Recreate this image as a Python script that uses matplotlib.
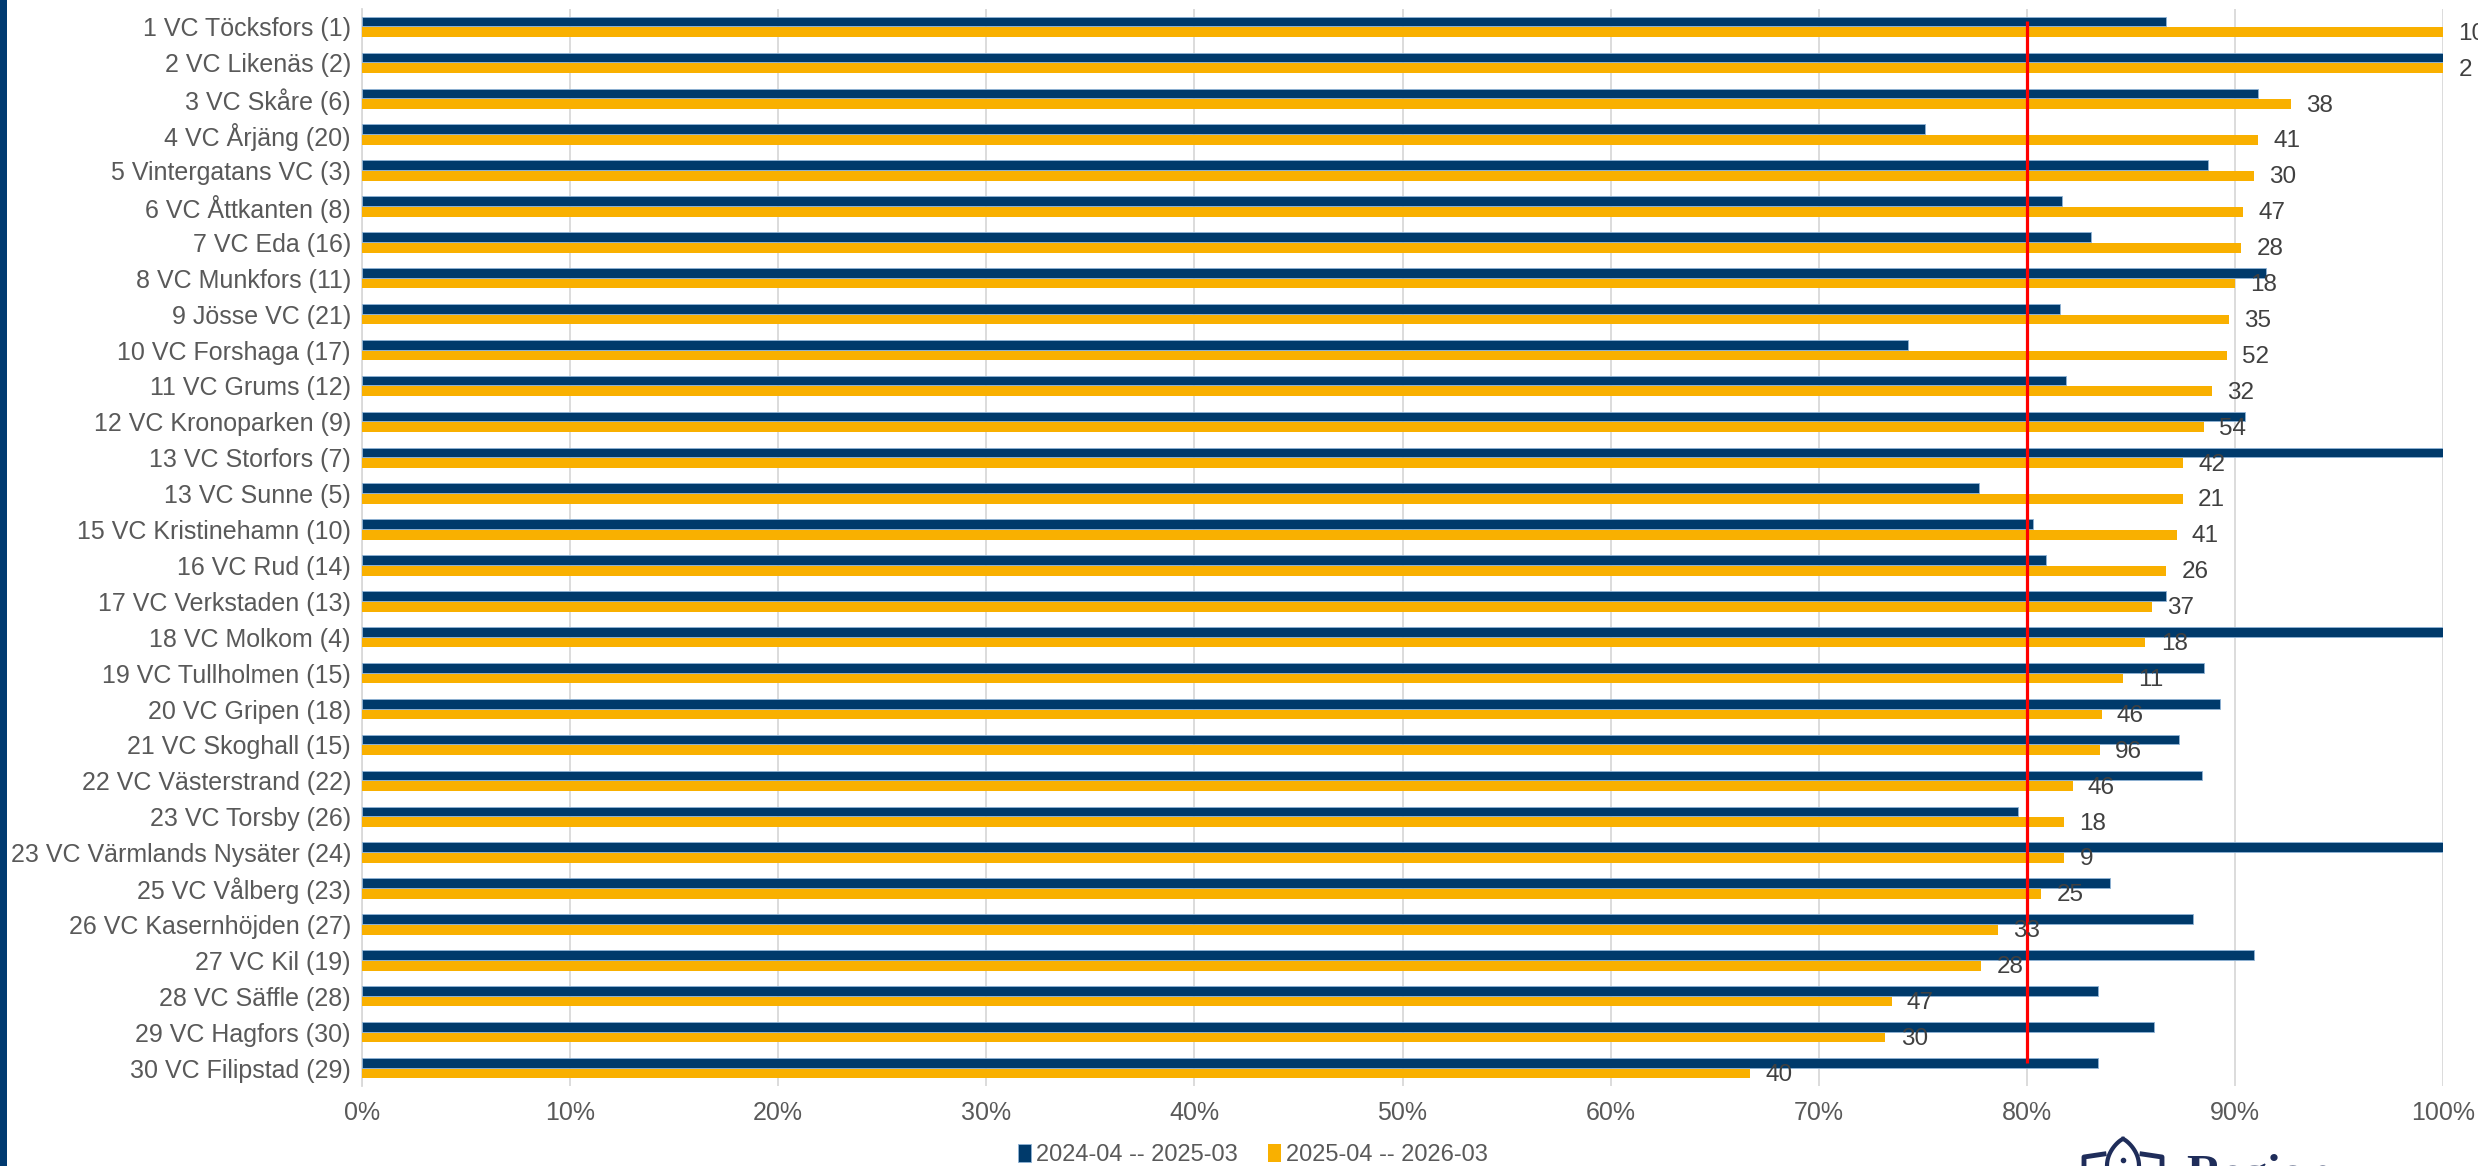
import matplotlib
matplotlib.use("Agg")
import matplotlib.pyplot as plt
from matplotlib.patches import Patch, Rectangle
from matplotlib.lines import Line2D
from matplotlib.ticker import PercentFormatter
import numpy as np

plt.rcParams['font.family'] = ['Liberation Sans', 'DejaVu Sans']

categories = [
    "1 VC Töcksfors (1)", "2 VC Likenäs (2)", "3 VC Skåre (6)", "4 VC Årjäng (20)",
    "5 Vintergatans VC (3)", "6 VC Åttkanten (8)", "7 VC Eda (16)", "8 VC Munkfors (11)",
    "9 Jösse VC (21)", "10 VC Forshaga (17)", "11 VC Grums (12)", "12 VC Kronoparken (9)",
    "13 VC Storfors (7)", "13 VC Sunne (5)", "15 VC Kristinehamn (10)", "16 VC Rud (14)",
    "17 VC Verkstaden (13)", "18 VC Molkom (4)", "19 VC Tullholmen (15)", "20 VC Gripen (18)",
    "21 VC Skoghall (15)", "22 VC Västerstrand (22)", "23 VC Torsby (26)",
    "23 VC Värmlands Nysäter (24)", "25 VC Vålberg (23)", "26 VC Kasernhöjden (27)",
    "27 VC Kil (19)", "28 VC Säffle (28)", "29 VC Hagfors (30)", "30 VC Filipstad (29)",
]
prev_period = [86.7, 100, 91.1, 75.1, 88.7, 81.7, 83.1, 91.5, 81.6, 74.3,
               81.9, 90.5, 100, 77.7, 80.3, 80.9, 86.7, 100, 88.5, 89.3,
               87.3, 88.4, 79.6, 100, 84.0, 88.0, 90.9, 83.4, 86.1, 83.4]
curr_period = [100, 100, 92.7, 91.1, 90.9, 90.4, 90.3, 90.0, 89.7, 89.6,
               88.9, 88.5, 87.5, 87.5, 87.2, 86.7, 86.0, 85.7, 84.6, 83.6,
               83.5, 82.2, 81.8, 81.8, 80.7, 78.6, 77.8, 73.5, 73.2, 66.7]
counts = [10, 2, 38, 41, 30, 47, 28, 18, 35, 52, 32, 54, 42, 21, 41, 26, 37, 18,
          11, 46, 96, 46, 18, 9, 25, 33, 28, 47, 30, 40]
series_names = ["2024-04 -- 2025-03", "2025-04 -- 2026-03"]
target = 80
x_ticks = [0, 10, 20, 30, 40, 50, 60, 70, 80, 90, 100]

NAVY = "#003A6B"
GOLD = "#F9B000"
RED = "#FF0000"
GRID = "#D9D9D9"
TXT = "#595959"
LBL = "#404040"

W, H = 2478, 1166
fig = plt.figure(figsize=(W / 100, H / 100), dpi=100)
ax = fig.add_axes([362 / W, 1 - 1086 / H, (2443 - 362) / W, (1086 - 9) / H])

y = np.arange(len(categories))
bh = 0.27
ax.barh(y - 0.15, prev_period, height=bh, color=NAVY, edgecolor="#8FB3D6",
        linewidth=0.6, zorder=3)
ax.barh(y + 0.15, curr_period, height=bh, color=GOLD, linewidth=0, zorder=3)

ax.vlines(target, -0.175, len(categories) - 1 - 0.14, color=RED, linewidth=2.3, zorder=5)

for yi, v, c in zip(y, curr_period, counts):
    ax.annotate(str(c), xy=(v, yi + 0.15), xytext=(11, -1), textcoords="offset points",
                ha="left", va="center", fontsize=17.5, color=LBL, zorder=6,
                annotation_clip=False)

ax.set_xlim(0, 100)
ax.set_ylim(len(categories) - 0.5, -0.5)
ax.set_yticks(y)
ax.set_yticklabels(categories, fontsize=18, color=TXT)
ax.set_xticks(x_ticks)
ax.xaxis.set_major_formatter(PercentFormatter(decimals=0))
ax.tick_params(axis="x", labelsize=18, labelcolor=TXT, length=0, pad=11)
ax.tick_params(axis="y", length=0, pad=8)
ax.grid(axis="x", color=GRID, linewidth=1.3, zorder=0)
ax.set_axisbelow(True)
for s in ["top", "right", "bottom"]:
    ax.spines[s].set_visible(False)
ax.spines["left"].set_color(GRID)
ax.spines["left"].set_linewidth(1.3)

handles = [Patch(facecolor=NAVY, edgecolor="#8FB3D6", linewidth=0.6),
           Patch(facecolor=GOLD)]
fig.legend(handles, series_names, loc="center", bbox_to_anchor=(1253 / W, 1 - 1155 / H),
           ncol=2, frameon=False, fontsize=17, labelcolor=TXT, handlelength=0.55,
           handleheight=0.8, handletextpad=0.2, columnspacing=1.3)

# left stripe
fig.add_artist(Rectangle((0, 0), 7 / W, 1, transform=fig.transFigure,
                         facecolor="#003A70", edgecolor="none"))

# logo (partially visible)
LOGO = "#1F2D5A"
def fx(px):
    return px / W
def fy(py):
    return 1 - py / H
t = np.linspace(0, 1, 30)
cx, top = 2123, 1139
xs_l = cx - 16 * np.sin(t * np.pi / 2)
ys_l = top + 27 * t ** 1.3
fig.add_artist(Line2D([fx(v) for v in xs_l], [fy(v) for v in ys_l], color=LOGO, lw=3,
                      transform=fig.transFigure))
xs_r = cx + 16 * np.sin(t * np.pi / 2)
fig.add_artist(Line2D([fx(v) for v in xs_r], [fy(v) for v in ys_l], color=LOGO, lw=3,
                      transform=fig.transFigure))
fig.add_artist(Line2D([fx(2084), fx(2084), fx(2104)], [fy(1166), fy(1157), fy(1154)],
                      color=LOGO, lw=3.5, transform=fig.transFigure))
fig.add_artist(Line2D([fx(2162), fx(2162), fx(2142)], [fy(1166), fy(1157), fy(1154)],
                      color=LOGO, lw=3.5, transform=fig.transFigure))
fig.add_artist(Line2D([fx(cx)], [fy(1160)], marker="o", markersize=3, color=LOGO,
                      transform=fig.transFigure))
fig.text(fx(2186), fy(1188), "Region", fontsize=35, fontweight="bold", color=LOGO,
         ha="left", va="baseline", family=["Liberation Serif", "DejaVu Serif"])

fig.savefig("out.png", dpi=100, facecolor="white")
